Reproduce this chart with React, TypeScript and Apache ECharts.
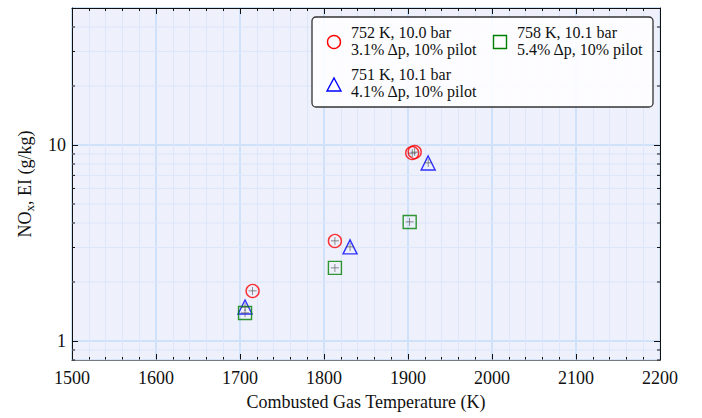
import React, { useEffect, useRef } from "react";
import * as echarts from "echarts";

// Data
const tempCircle = [1715, 1813, 1905, 1908];
const noxCircle = [1.8, 3.24, 9.1, 9.2];
const tempTriangle = [1706, 1831, 1924];
const noxTriangle = [1.49, 3.02, 8.1];
const tempSquare = [1706, 1813, 1902];
const noxSquare = [1.39, 2.36, 4.05];

const legendCircle = ["752 K, 10.0 bar", "3.1% Δp, 10% pilot"];
const legendTriangle = ["751 K, 10.1 bar", "4.1% Δp, 10% pilot"];
const legendSquare = ["758 K, 10.1 bar", "5.4% Δp, 10% pilot"];

const yMinorValues = [0.8, 0.9, 2, 3, 4, 5, 6, 7, 8, 9, 20, 30, 40];

const X_MIN = 1500;
const X_MAX = 2200;
const Y_MIN = 0.8;
const Y_MAX = 50;

const FONT = "Liberation Serif";
const MAJOR_GRID = "#cfe2fa";
const MINOR_GRID = "#dde6fa";

function pairs(xs: number[], ys: number[]) {
  return xs.map((x, i) => [x, ys[i]]);
}

const plusPath = "path://M4.55,0H5.45V10H4.55Z M0,4.55H10V5.45H0Z";

export default function App() {
  const ref = useRef<HTMLDivElement>(null);
  useEffect(() => {
    if (!ref.current) return;
    const chart = echarts.init(ref.current, undefined, { renderer: "svg" });
    const allPts = [
      ...pairs(tempCircle, noxCircle),
      ...pairs(tempTriangle, noxTriangle),
      ...pairs(tempSquare, noxSquare),
    ];
    const legendTitle = (left: number, centerY: number, lines: string[]) => ({
      text: lines.join("\n"),
      left,
      top: centerY - 8.5,
      padding: 0,
      z: 20,
      textStyle: {
        fontFamily: FONT,
        fontSize: 16,
        fontWeight: "normal",
        color: "#111",
        lineHeight: 17,
      },
    });
    const option: any = {
      animation: false,
      backgroundColor: "#ffffff",
      textStyle: { fontFamily: FONT },
      title: [
        legendTitle(351, 32, legendCircle),
        legendTitle(351, 74, legendTriangle),
        legendTitle(517, 32, legendSquare),
      ],
      grid: {
        left: 72,
        right: 42,
        top: 8,
        bottom: 58,
        containLabel: false,
        show: true,
        backgroundColor: "#eef0fc",
        borderWidth: 0,
      },
      xAxis: [
        {
          type: "value",
          min: X_MIN,
          max: X_MAX,
          interval: 100,
          name: "Combusted Gas Temperature (K)",
          nameLocation: "middle",
          nameGap: 33,
          nameTextStyle: { fontFamily: FONT, fontSize: 18, color: "#111" },
          axisLine: { show: true, onZero: false, lineStyle: { color: "#111", width: 1 } },
          axisTick: { show: true, inside: true, length: 6, lineStyle: { color: "#111" } },
          minorTick: { show: true, splitNumber: 5, length: 3, lineStyle: { color: "#111" } },
          axisLabel: {
            fontFamily: FONT,
            fontSize: 18,
            color: "#111",
            margin: 9,
            formatter: (v: number) => String(v),
          },
          splitLine: { show: true, lineStyle: { color: MAJOR_GRID, width: 2 } },
          minorSplitLine: { show: true, lineStyle: { color: MINOR_GRID, width: 1 } },
        },
        {
          type: "value",
          position: "top",
          min: X_MIN,
          max: X_MAX,
          interval: 100,
          axisLine: { show: true, onZero: false, lineStyle: { color: "#111", width: 1 } },
          axisTick: { show: true, inside: true, length: 6, lineStyle: { color: "#111" } },
          minorTick: { show: true, splitNumber: 5, length: 3, lineStyle: { color: "#111" } },
          axisLabel: { show: false },
          splitLine: { show: false },
        },
      ],
      yAxis: [
        {
          type: "log",
          logBase: 10,
          min: Y_MIN,
          max: Y_MAX,
          name: "{a|NO}{s|x}{a|, EI (g/kg)}",
          nameLocation: "middle",
          nameGap: 36,
          nameTextStyle: {
            color: "#111",
            rich: {
              a: { fontFamily: FONT, fontSize: 18, color: "#111" },
              s: { fontFamily: FONT, fontSize: 13, color: "#111", padding: [9, 0, 0, 0] },
            },
          },
          axisLine: { show: true, onZero: false, lineStyle: { color: "#111", width: 1 } },
          axisTick: { show: true, inside: true, length: 6, lineStyle: { color: "#111" } },
          axisLabel: {
            fontFamily: FONT,
            fontSize: 18,
            color: "#111",
            margin: 6,
            formatter: (v: number) => {
              const l = Math.log10(v);
              return Math.abs(l - Math.round(l)) < 1e-6 ? String(Math.round(v)) : "";
            },
          },
          splitLine: { show: true, lineStyle: { color: MAJOR_GRID, width: 2 } },
        },
        {
          type: "log",
          logBase: 10,
          min: Y_MIN,
          max: Y_MAX,
          position: "right",
          axisLine: { show: true, onZero: false, lineStyle: { color: "#111", width: 1 } },
          axisTick: { show: true, inside: true, length: 6, lineStyle: { color: "#111" } },
          axisLabel: { show: false },
          splitLine: { show: false },
        },
      ],
      series: [
        {
          type: "custom",
          xAxisIndex: 0,
          yAxisIndex: 0,
          silent: true,
          z: 1,
          data: yMinorValues.map((v) => [X_MIN, v]),
          encode: { x: 0, y: 1 },
          renderItem: (params: any, api: any) => {
            const cs = params.coordSys;
            const y = api.coord([X_MIN, api.value(1)])[1];
            return {
              type: "group",
              children: [
                {
                  type: "line",
                  shape: { x1: cs.x, y1: y, x2: cs.x + cs.width, y2: y },
                  style: { stroke: MINOR_GRID, lineWidth: 1 },
                  z2: 0,
                },
                {
                  type: "line",
                  shape: { x1: cs.x, y1: y, x2: cs.x + 3, y2: y },
                  style: { stroke: "#111", lineWidth: 1 },
                  z2: 1,
                },
                {
                  type: "line",
                  shape: { x1: cs.x + cs.width - 3, y1: y, x2: cs.x + cs.width, y2: y },
                  style: { stroke: "#111", lineWidth: 1 },
                  z2: 1,
                },
              ],
            };
          },
        },
        {
          name: "752 K",
          type: "scatter",
          z: 3,
          symbol: "circle",
          symbolSize: 13,
          data: pairs(tempCircle, noxCircle),
          itemStyle: { color: "rgba(0,0,0,0)", borderColor: "#ff0000", borderWidth: 1.4 },
        },
        {
          name: "751 K",
          type: "scatter",
          z: 3,
          symbol: "triangle",
          symbolSize: 14,
          data: pairs(tempTriangle, noxTriangle),
          itemStyle: { color: "rgba(0,0,0,0)", borderColor: "#0000ff", borderWidth: 1.4 },
        },
        {
          name: "758 K",
          type: "scatter",
          z: 3,
          symbol: "rect",
          symbolSize: 13,
          data: pairs(tempSquare, noxSquare),
          itemStyle: { color: "rgba(0,0,0,0)", borderColor: "#008000", borderWidth: 1.4 },
        },
        {
          name: "error",
          type: "scatter",
          z: 4,
          symbol: plusPath,
          symbolSize: 8,
          data: allPts,
          itemStyle: { color: "#444" },
        },
      ],
      graphic: [
        {
          type: "rect",
          shape: { x: 312, y: 17, width: 341, height: 90, r: 4 },
          style: { fill: "rgba(255,255,255,0.85)", stroke: "#333", lineWidth: 1.3 },
          z: 10,
        },
        {
          type: "circle",
          shape: { cx: 334, cy: 42, r: 6.5 },
          style: { fill: "none", stroke: "#ff0000", lineWidth: 1.4 },
          z: 11,
        },
        {
          type: "polygon",
          shape: { points: [[334, 78], [341, 91], [327, 91]] },
          style: { fill: "none", stroke: "#0000ff", lineWidth: 1.4 },
          z: 11,
        },
        {
          type: "rect",
          shape: { x: 493.5, y: 35.5, width: 13, height: 13 },
          style: { fill: "none", stroke: "#008000", lineWidth: 1.4 },
          z: 11,
        },
      ],
    };
    chart.setOption(option);
    return () => chart.dispose();
  }, []);
  return <div ref={ref} style={{ width: 702, height: 418, position: "absolute", left: 0, top: 0 }} />;
}
